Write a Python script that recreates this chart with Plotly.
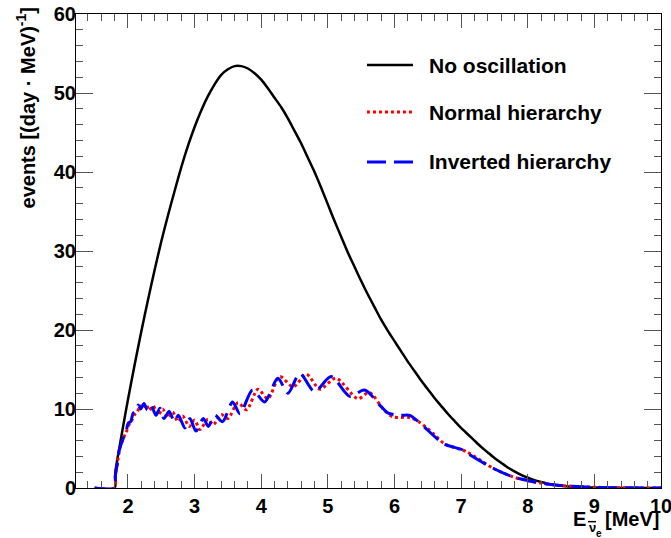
import plotly.graph_objects as go

# ---- data ----
e_noosc = [1.50, 1.80, 1.81, 1.90, 2.00, 2.10, 2.20, 2.30, 2.40, 2.50, 2.60, 2.70, 2.80, 2.90,
           3.00, 3.10, 3.20, 3.30, 3.40, 3.50, 3.60, 3.70, 3.80, 3.90, 4.00, 4.10, 4.20, 4.30,
           4.40, 4.50, 4.60, 4.70, 4.80, 4.90, 5.00, 5.10, 5.20, 5.30, 5.40, 5.50, 5.60, 5.70,
           5.80, 5.90, 6.00, 6.10, 6.20, 6.30, 6.40, 6.50, 6.60, 6.70, 6.80, 6.90, 7.00, 7.10,
           7.20, 7.30, 7.40, 7.50, 7.60, 7.70, 7.80, 7.90, 8.00, 8.10, 8.20, 8.30, 8.40, 8.50,
           8.60, 8.80, 9.00, 9.50, 10.0]
n_noosc = [0.0, 0.0, 2.0, 6.5, 11.2, 15.6, 19.8, 23.8, 27.6, 31.2, 34.5, 37.6, 40.6, 43.3,
           45.7, 47.8, 49.6, 51.1, 52.3, 53.0, 53.4, 53.4, 53.1, 52.5, 51.7, 50.6, 49.4, 48.2,
           46.8, 45.2, 43.6, 41.8, 40.0, 38.0, 35.9, 33.8, 31.8, 29.8, 28.0, 26.2, 24.5, 22.9,
           21.3, 19.9, 18.6, 17.3, 16.0, 14.8, 13.6, 12.5, 11.4, 10.4, 9.4, 8.5, 7.6, 6.8,
           6.0, 5.2, 4.5, 3.8, 3.2, 2.6, 2.1, 1.65, 1.3, 1.0, 0.75, 0.55, 0.4, 0.28,
           0.2, 0.1, 0.05, 0.01, 0.0]

e_nh = [1.50, 1.80, 1.81, 1.85, 1.87, 1.93, 1.97, 2.01, 2.06, 2.10, 2.14, 2.18, 2.22, 2.27,
        2.32, 2.38, 2.45, 2.52, 2.59, 2.67, 2.75, 2.82, 2.92, 3.00, 3.08, 3.20, 3.28, 3.40,
        3.50, 3.65, 3.78, 3.95, 4.10, 4.28, 4.48, 4.68, 4.88, 5.12, 5.45, 5.62, 5.85, 5.98,
        6.23, 6.38, 6.58, 6.75, 7.08, 7.48, 7.78, 8.08, 8.38, 8.82, 9.50, 10.0]
n_nh = [0.0, 0.0, 1.5, 3.6, 4.8, 6.3, 7.0, 7.9, 8.6, 9.3, 9.6, 10.4, 10.0, 10.6,
        9.8, 10.4, 9.2, 10.0, 8.9, 9.6, 8.4, 9.1, 7.8, 8.6, 7.4, 8.7, 8.0, 9.3,
        8.8, 10.8, 9.9, 12.5, 11.3, 14.1, 12.8, 14.4, 12.5, 13.9, 11.3, 12.1, 9.8, 9.0,
        8.9, 8.3, 6.9, 5.6, 4.6, 2.5, 1.4, 0.8, 0.4, 0.15, 0.02, 0.0]

e_ih = [1.50, 1.80, 1.81, 1.85, 1.87, 1.93, 1.97, 2.005, 2.04, 2.08, 2.12, 2.155, 2.19, 2.24,
        2.29, 2.345, 2.42, 2.48, 2.54, 2.62, 2.695, 2.755, 2.855, 2.93, 3.02, 3.13, 3.205,
        3.305, 3.42, 3.57, 3.68, 3.87, 4.05, 4.25, 4.40, 4.58, 4.80, 5.05, 5.33, 5.55, 5.80,
        5.90, 6.08, 6.23, 6.33, 6.63, 6.73, 7.03, 7.13, 7.48, 7.78, 8.08, 8.38, 8.82, 9.08,
        9.50, 10.0]
n_ih = [0.0, 0.0, 1.5, 3.6, 4.8, 6.3, 7.1, 8.2, 8.4, 9.5, 9.7, 10.5, 10.0, 10.7,
        9.9, 10.5, 9.2, 10.1, 8.8, 9.7, 8.4, 9.2, 7.6, 8.8, 7.2, 8.8, 7.8,
        9.2, 8.4, 10.9, 9.4, 12.4, 10.9, 13.9, 12.0, 14.5, 12.2, 14.1, 11.6, 12.4, 10.3,
        9.5, 9.2, 9.2, 8.6, 6.3, 5.6, 4.8, 4.2, 2.5, 1.4, 0.8, 0.4, 0.15, 0.05,
        0.02, 0.0]

names = ["No oscillation", "Normal hierarchy", "Inverted hierarchy"]
x_ticks = [2, 3, 4, 5, 6, 7, 8, 9, 10]
y_ticks = [0, 10, 20, 30, 40, 50, 60]

FONT = "Liberation Sans, Arial, Helvetica, sans-serif"
BLACK = "black"
RED = "#ff0000"
BLUE = "#0000ff"
DOT = "3px,3px"
DASH = "19px,8px"

fig = go.Figure()
fig.add_trace(go.Scatter(x=e_noosc, y=n_noosc, mode="lines", name=names[0],
                         line=dict(color=BLACK, width=2.5, shape="spline", smoothing=0.6)))
fig.add_trace(go.Scatter(x=e_nh, y=n_nh, mode="lines", name=names[1],
                         line=dict(color=RED, width=3, dash=DOT,
                                   shape="spline", smoothing=0.8)))
fig.add_trace(go.Scatter(x=e_ih, y=n_ih, mode="lines", name=names[2],
                         line=dict(color=BLUE, width=3, dash=DASH,
                                   shape="spline", smoothing=0.8)))

axis_common = dict(showline=True, linecolor="black", linewidth=1, mirror="ticks",
                   ticks="inside", tickcolor="#555555", tickwidth=1,
                   showgrid=False, zeroline=False, automargin=False,
                   ticklabeloverflow="allow",
                   tickfont=dict(family=FONT, size=20, color="black", weight="bold"))

fig.update_xaxes(range=[1.22, 10], tickvals=x_ticks, ticktext=[str(v) for v in x_ticks],
                 ticklen=14,
                 minor=dict(dtick=0.2, tick0=0, ticks="inside", ticklen=7,
                            tickcolor="#555555", showgrid=False),
                 **axis_common)
fig.update_yaxes(range=[0, 60], tickvals=y_ticks, ticktext=[str(v) for v in y_ticks],
                 ticklen=17, ticklabelstandoff=-5,
                 minor=dict(dtick=2, tick0=0, ticks="inside", ticklen=7,
                            tickcolor="#555555", showgrid=False),
                 **axis_common)

# axis titles
fig.add_annotation(text="events [(day · MeV)<sup>-1</sup>]", textangle=-90,
                   xref="paper", yref="paper", x=-0.0855, y=1.019,
                   xanchor="center", yanchor="top", showarrow=False,
                   font=dict(family=FONT, size=20, color="black", weight="bold"))
title_font = dict(family=FONT, size=20, color="black", weight="bold")
fig.add_annotation(text="[MeV]", xref="paper", yref="paper", x=1.0, y=-0.0654,
                   xanchor="right", yanchor="middle", showarrow=False, font=title_font)
fig.add_annotation(text="E", xref="paper", yref="paper", x=0.8752, y=-0.0654,
                   xanchor="right", yanchor="middle", showarrow=False, font=title_font)
fig.add_annotation(text="ν", xref="paper", yref="paper", x=0.8735, y=-0.0825,
                   xanchor="left", yanchor="middle", showarrow=False,
                   font=dict(family=FONT, size=13, color="black", weight="bold"))
fig.add_annotation(text="e", xref="paper", yref="paper", x=0.8855, y=-0.096,
                   xanchor="left", yanchor="middle", showarrow=False,
                   font=dict(family=FONT, size=10, color="black", weight="bold"))
# bar over the nu
fig.add_shape(type="line", xref="paper", yref="paper",
              x0=0.8752, x1=0.8890, y0=-0.0710, y1=-0.0710,
              line=dict(color="black", width=1.5))

# legend (drawn by hand so the line samples match the reference length)
leg_y = [0.8924, 0.7932, 0.6878]
leg_col = [BLACK, RED, BLUE]
leg_dash = ["solid", DOT, DASH]
leg_w = [2.5, 3, 3]
for i in range(3):
    fig.add_shape(type="line", xref="paper", yref="paper",
                  x0=0.4974, x1=0.5761, y0=leg_y[i], y1=leg_y[i],
                  line=dict(color=leg_col[i], width=leg_w[i], dash=leg_dash[i]))
    fig.add_annotation(text=names[i], xref="paper", yref="paper", x=0.6, y=leg_y[i],
                       xanchor="left", yanchor="middle", showarrow=False,
                       font=dict(family=FONT, size=21, color="black", weight="bold"))

fig.update_layout(
    width=671, height=538,
    margin=dict(l=76, r=10, t=14, b=50),
    paper_bgcolor="white", plot_bgcolor="white",
    showlegend=False,
)

fig.write_html("out.html",
               config={"displayModeBar": False},
               post_script="document.body.style.margin='0px';"
                           "document.body.style.overflow='hidden';")
